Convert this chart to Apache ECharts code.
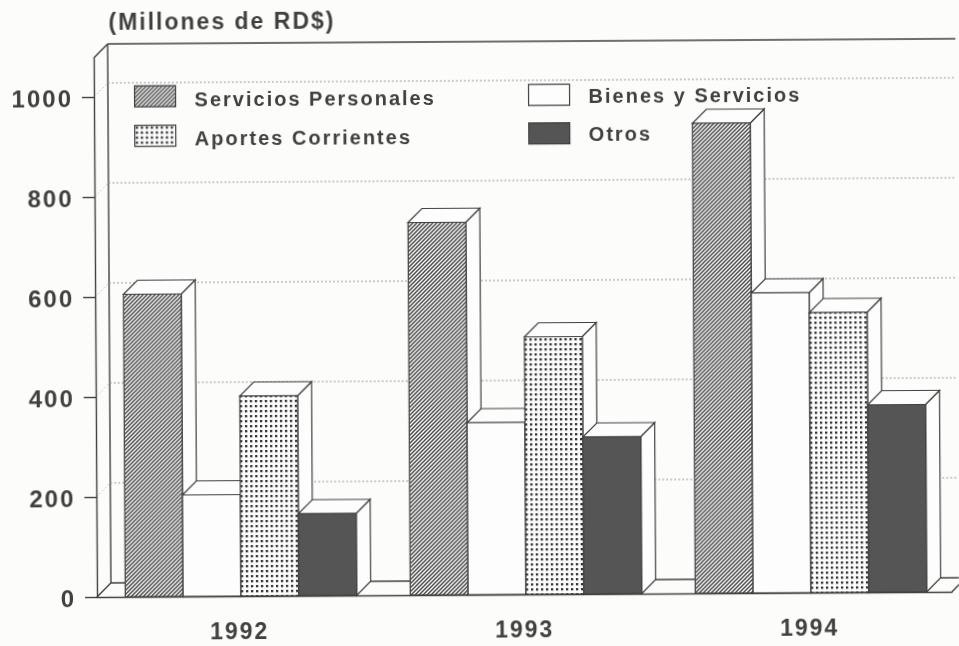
<!DOCTYPE html>
<html>
<head>
<meta charset="utf-8">
<style>
html,body{margin:0;padding:0;background:#fcfcfb;overflow:hidden}
#c{width:959px;height:646px;transform-origin:97px 599px;transform:rotate(-0.35deg)}
</style>
<script src="https://cdn.jsdelivr.net/npm/echarts@6/dist/echarts.min.js"></script>
</head>
<body>
<div id="c"></div>
<script>
const categories = ['1992', '1993', '1994'];
const serviciosPersonales = [605, 745, 940];
const bienesServicios = [203, 344, 600];
const aportesCorrientes = [400, 515, 560];
const otros = [164, 314, 375];
const yTicks = [0, 200, 400, 600, 800, 1000];
const yTop = 1078;

const INK = '#404040', DEPTH = 14, FONT = '"Liberation Sans"';

// The reference's lettering is widely spaced: give every chart canvas the same tracking.
const nativeGetContext = HTMLCanvasElement.prototype.getContext;
HTMLCanvasElement.prototype.getContext = function () {
  const ctx = nativeGetContext.apply(this, arguments);
  if (ctx && 'letterSpacing' in ctx && !this.__tracked) {
    ctx.letterSpacing = '2px';
    this.__tracked = true;
  }
  return ctx;
};

function tile(size, draw) {
  const cv = document.createElement('canvas');
  cv.width = cv.height = size;
  const g = cv.getContext('2d');
  g.fillStyle = '#fdfdfd'; g.fillRect(0, 0, size, size);
  draw(g, size);
  return {image: cv, repeat: 'repeat'};
}
const hatch = tile(4, (g, s) => {
  g.strokeStyle = '#4a4a4a'; g.lineWidth = 1.5;
  g.beginPath();
  g.moveTo(-1, 1); g.lineTo(1, -1);
  g.moveTo(-1, s + 1); g.lineTo(s + 1, -1);
  g.moveTo(s - 1, s + 1); g.lineTo(s + 1, s - 1);
  g.stroke();
});
const dots = tile(5, (g) => {
  g.fillStyle = '#333333';
  g.fillRect(1, 1, 2.3, 2.3);
});

function poly(points, fill) {
  return {type: 'polygon', shape: {points}, style: {fill, stroke: INK, lineWidth: 1.2}};
}
function barRender(pos, fill) {
  return (params, api) => {
    const band = api.size([1, 0])[0];
    const w = band * 0.203;
    const cat = api.value(0);
    const top = api.coord([cat, api.value(1)]);
    const base = api.coord([cat, 0]);
    const x0 = top[0] + (pos - 2) * w + 1.5, x1 = x0 + w, yt = top[1], yb = base[1];
    return {
      type: 'group',
      children: [
        poly([[x1, yt], [x1 + DEPTH, yt - DEPTH], [x1 + DEPTH, yb - DEPTH], [x1, yb]], '#fdfdfd'),
        poly([[x0, yt], [x0 + DEPTH, yt - DEPTH], [x1 + DEPTH, yt - DEPTH], [x1, yt]], '#fdfdfd'),
        poly([[x0, yt], [x1, yt], [x1, yb], [x0, yb]], fill)
      ]
    };
  };
}
function barSeries(name, values, pos, fill) {
  return {
    type: 'custom', name, z: 3,
    itemStyle: {color: fill},
    data: values.map((v, i) => [i, v]),
    encode: {x: 0, y: 1},
    renderItem: barRender(pos, fill),
    silent: true
  };
}
const line = (x1, y1, x2, y2, extra) => ({
  type: 'line', shape: {x1, y1, x2, y2},
  style: Object.assign({stroke: INK, lineWidth: 1.4}, extra || {})
});
const wallSeries = {
  type: 'custom', name: 'Paredes', z: 1, silent: true,
  data: [[0, 0]],
  encode: {x: 0, y: 1},
  renderItem: (params, api) => {
    const cs = params.coordSys;
    const bottom = cs.y + cs.height, top = cs.y, left = cs.x, right = cs.x + cs.width;
    return {
      type: 'group',
      children: [
        line(left, top, left + DEPTH, top - DEPTH),
        line(left + DEPTH, top - DEPTH, right + DEPTH, top - DEPTH),
        line(left + DEPTH, top - DEPTH, left + DEPTH, bottom - DEPTH),
        line(left, bottom, left + DEPTH, bottom - DEPTH),
        line(left + DEPTH, bottom - DEPTH, right + DEPTH, bottom - DEPTH),
        line(right, bottom, right + DEPTH, bottom - DEPTH)
      ]
    };
  }
};
const gridSeries = {
  type: 'custom', name: 'Rejilla', z: 1, silent: true,
  data: yTicks.filter(t => t > 0).map(t => [0, t]),
  encode: {x: 0, y: 1},
  renderItem: (params, api) => {
    const cs = params.coordSys;
    const y = api.coord([0, api.value(1)])[1];
    const dash = {stroke: '#9a9a9a', lineWidth: 1, lineDash: [2, 2]};
    const faint = {stroke: '#cccccc', lineWidth: 1, lineDash: [2, 2]};
    return {
      type: 'group',
      children: [
        line(cs.x, y, cs.x + DEPTH, y - DEPTH, faint),
        line(cs.x + DEPTH, y - DEPTH, cs.x + cs.width + DEPTH, y - DEPTH, dash)
      ]
    };
  }
};
const legendTextBase = {color: INK, fontFamily: FONT, fontSize: 20, fontWeight: 'bold'};
const legendToken = lh => ({a: Object.assign({lineHeight: lh, verticalAlign: 'bottom'}, legendTextBase)});
const legendCommon = {
  orient: 'vertical', padding: 0, itemWidth: 41, itemHeight: 21,
  icon: 'rect', selectedMode: false, formatter: '{a|{name}}',
  itemStyle: {borderColor: INK, borderWidth: 1.2}
};
const axisText = {color: INK, fontFamily: FONT, fontSize: 23, fontWeight: 'bold'};

const chart = echarts.init(document.getElementById('c'), null, {renderer: 'canvas'});
chart.setOption({
  backgroundColor: '#fcfcfb',
  animation: false,
  title: {
    text: '(Millones de RD$)', left: 107, top: 6,
    textStyle: {color: INK, fontFamily: FONT, fontSize: 23, fontWeight: 'bold'}
  },
  grid: {left: 97, top: 58, width: 855, height: 541},
  legend: [
    Object.assign({}, legendCommon, {
      left: 137, top: 85.5, itemGap: 13, data: ['Servicios Personales', 'Aportes Corrientes'],
      textStyle: Object.assign({padding: [0, 0, 0, 14], rich: legendToken(31)}, legendTextBase)
    }),
    Object.assign({}, legendCommon, {
      left: 531, top: 86.5, itemGap: 14, data: ['Bienes y Servicios', 'Otros'],
      textStyle: Object.assign({padding: [0, 0, 0, 14], rich: legendToken(27)}, legendTextBase)
    })
  ],
  xAxis: {
    type: 'category', data: categories, z: 10,
    axisLine: {lineStyle: {color: INK, width: 1.4}},
    axisTick: {alignWithLabel: true, length: 11, lineStyle: {color: INK, width: 1.4}},
    axisLabel: Object.assign({margin: 24, interval: 0}, axisText)
  },
  yAxis: {
    type: 'value', min: 0, max: yTop, z: 10,
    splitLine: {show: false},
    axisLine: {show: true, lineStyle: {color: INK, width: 1.4}},
    axisTick: {show: true, length: 12, customValues: yTicks, lineStyle: {color: INK, width: 1.4}},
    axisLabel: Object.assign({margin: 21, padding: [0, 0, 0, 0], verticalAlign: 'top', lineHeight: 6, customValues: yTicks, formatter: v => String(v)}, axisText, {fontSize: 24})
  },
  series: [
    wallSeries,
    gridSeries,
    barSeries('Servicios Personales', serviciosPersonales, 0, hatch),
    barSeries('Bienes y Servicios', bienesServicios, 1, '#fdfdfd'),
    barSeries('Aportes Corrientes', aportesCorrientes, 2, dots),
    barSeries('Otros', otros, 3, '#555555')
  ]
});
</script>
</body>
</html>
